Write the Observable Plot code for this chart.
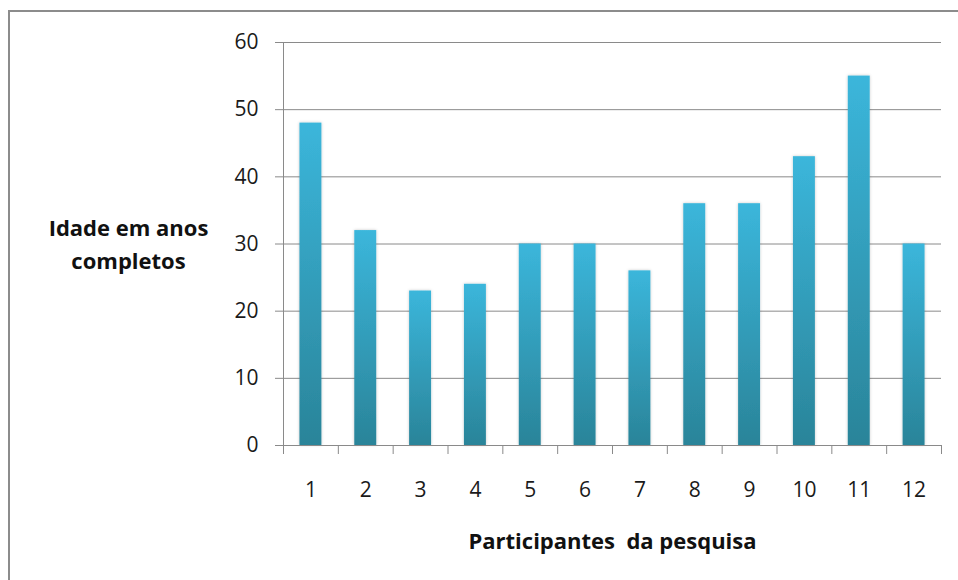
<!DOCTYPE html>
<html>
<head>
<meta charset="utf-8">
<script src="https://cdn.jsdelivr.net/npm/d3@7"></script>
<script src="https://cdn.jsdelivr.net/npm/@observablehq/plot@0.6"></script>
<style>
  html, body { margin: 0; padding: 0; background: #fff; width: 958px; height: 580px; overflow: hidden; }
  #wrap { position: relative; width: 958px; height: 580px; }
  #frame { position: absolute; left: 8px; top: 10px; width: 1200px; height: 1200px;
           border-left: 2px solid #8c8c8c; border-top: 2px solid #8c8c8c; pointer-events: none; }
  svg text { white-space: pre; }
</style>
</head>
<body>
<div id="wrap"><div id="frame"></div></div>
<script>
const categories = ["1", "2", "3", "4", "5", "6", "7", "8", "9", "10", "11", "12"];
const ages = [48, 32, 23, 24, 30, 30, 26, 36, 36, 43, 55, 30];
const yTicks = [0, 10, 20, 30, 40, 50, 60];
const yLabelLines = ["Idade em anos", "completos"];
const xLabel = "Participantes  da pesquisa";

const rows = categories.map((c, i) => ({participante: c, idade: ages[i]}));

const W = 958, H = 580, mL = 283, mR = 17, mT = 42, mB = 135;
const step = (W - mL - mR) / categories.length;
const axisColor = "#8a8a8a";

const chart = Plot.plot({
  width: W, height: H,
  marginLeft: mL, marginRight: mR, marginTop: mT, marginBottom: mB,
  style: {fontFamily: "'Open Sans', sans-serif", fontSize: "21px", color: "#1a1a1a", background: "transparent", overflow: "visible"},
  x: {domain: categories, paddingInner: 0.6, paddingOuter: 0.3, round: false},
  y: {domain: [0, 60]},
  marks: [
    Plot.gridY(yTicks, {stroke: axisColor, strokeOpacity: 1}),
    Plot.axisY(yTicks, {tickSize: 8, tickPadding: 17, stroke: axisColor, label: null, fontSize: 21}),
    Plot.ruleX([categories[0]], {dx: -step / 2, stroke: axisColor}),
    Plot.barY(rows, {x: "participante", y: "idade", fill: "url(#barGrad)"}),
    Plot.axisX({tickSize: 9, text: null, dx: -step / 2, stroke: axisColor, label: null}),
    Plot.axisX([categories[categories.length - 1]], {tickSize: 9, text: null, dx: step / 2, stroke: axisColor, label: null}),
    Plot.axisX({tickSize: 0, tickPadding: 37, label: null, fontSize: 21}),
    Plot.ruleY([0], {stroke: axisColor}),
    Plot.text([yLabelLines.join("\n")], {frameAnchor: "left", dx: -155, dy: -2, textAnchor: "middle", fontWeight: "bold", fontSize: 22, lineHeight: 1.5, fill: "#111"}),
    Plot.text([xLabel], {frameAnchor: "bottom", dy: 103, fontWeight: "bold", fontSize: 22, fill: "#111"})
  ]
});

const svg = d3.select(chart);
const defs = svg.insert("defs", ":first-child");
const g = defs.append("linearGradient").attr("id", "barGrad").attr("x1", 0).attr("y1", 0).attr("x2", 0).attr("y2", 1);
g.append("stop").attr("offset", "0%").attr("stop-color", "#3bb6db");
g.append("stop").attr("offset", "100%").attr("stop-color", "#2a8499");
const f = defs.append("filter").attr("id", "barShadow").attr("x", "-30%").attr("y", "-10%").attr("width", "160%").attr("height", "120%");
f.append("feDropShadow").attr("dx", 0).attr("dy", 0).attr("stdDeviation", 1.5).attr("flood-color", "#000").attr("flood-opacity", 0.22);
svg.selectAll("rect").filter(function() { return this.getAttribute("fill") === "url(#barGrad)" || (this.parentNode && this.parentNode.getAttribute("fill") === "url(#barGrad)"); })
  .attr("filter", "url(#barShadow)");

document.getElementById("wrap").insertBefore(chart, document.getElementById("frame"));
chart.style.position = "absolute";
chart.style.left = "0";
chart.style.top = "0";
</script>
</body>
</html>
